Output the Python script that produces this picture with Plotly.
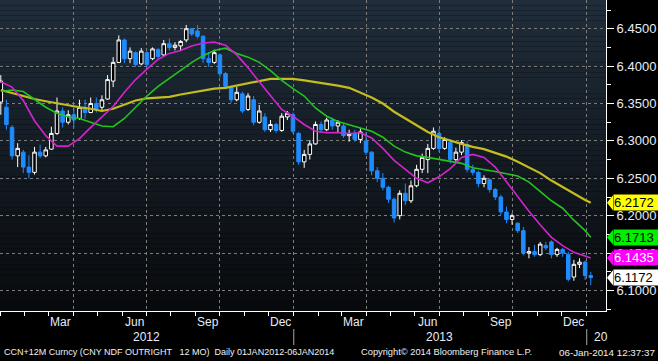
import plotly.graph_objects as go
import pandas as pd

# ---------------- data ----------------
week_dates = pd.date_range("2012-01-02", periods=106, freq="7D")

open_ = [6.352, 6.345, 6.318, 6.280, 6.285, 6.265, 6.258, 6.285, 6.280, 6.289,
         6.310, 6.340, 6.325, 6.335, 6.330, 6.345, 6.338, 6.350, 6.345, 6.356,
         6.380, 6.405, 6.435, 6.410, 6.418, 6.403, 6.418, 6.410, 6.422, 6.415,
         6.430, 6.425, 6.427, 6.435, 6.450, 6.447, 6.440, 6.410, 6.405, 6.415,
         6.390, 6.372, 6.355, 6.363, 6.342, 6.355, 6.325, 6.332, 6.315, 6.322,
         6.314, 6.332, 6.335, 6.310, 6.272, 6.282, 6.296, 6.322, 6.315, 6.328,
         6.320, 6.320, 6.307, 6.310, 6.302, 6.300, 6.285, 6.260, 6.250, 6.238,
         6.222, 6.200, 6.230, 6.220, 6.240, 6.262, 6.275, 6.290, 6.310, 6.290,
         6.298, 6.275, 6.285, 6.295, 6.262, 6.258, 6.243, 6.248, 6.235, 6.225,
         6.205, 6.195, 6.190, 6.180, 6.150, 6.152, 6.148, 6.160, 6.165, 6.148,
         6.155, 6.148, 6.118, 6.135, 6.138, 6.120]
high = [6.388, 6.355, 6.321, 6.297, 6.288, 6.281, 6.292, 6.295, 6.292, 6.319,
        6.358, 6.345, 6.341, 6.345, 6.355, 6.355, 6.358, 6.358, 6.361, 6.388,
        6.412, 6.441, 6.437, 6.425, 6.420, 6.424, 6.420, 6.425, 6.424, 6.435,
        6.437, 6.432, 6.435, 6.455, 6.451, 6.455, 6.441, 6.419, 6.422, 6.417,
        6.392, 6.374, 6.372, 6.366, 6.364, 6.360, 6.348, 6.337, 6.328, 6.324,
        6.337, 6.340, 6.338, 6.312, 6.288, 6.301, 6.326, 6.326, 6.331, 6.331,
        6.328, 6.323, 6.315, 6.315, 6.317, 6.312, 6.286, 6.265, 6.257, 6.240,
        6.224, 6.234, 6.243, 6.247, 6.268, 6.283, 6.296, 6.318, 6.316, 6.305,
        6.302, 6.291, 6.301, 6.300, 6.268, 6.260, 6.254, 6.250, 6.237, 6.228,
        6.212, 6.203, 6.191, 6.185, 6.158, 6.161, 6.165, 6.165, 6.167, 6.157,
        6.157, 6.152, 6.141, 6.143, 6.140, 6.125]
low = [6.335, 6.315, 6.275, 6.265, 6.257, 6.250, 6.255, 6.277, 6.278, 6.288,
       6.308, 6.318, 6.322, 6.318, 6.328, 6.330, 6.337, 6.338, 6.341, 6.355,
       6.372, 6.404, 6.404, 6.404, 6.399, 6.401, 6.399, 6.408, 6.410, 6.413,
       6.421, 6.421, 6.420, 6.432, 6.440, 6.437, 6.404, 6.399, 6.403, 6.385,
       6.371, 6.351, 6.353, 6.337, 6.340, 6.321, 6.323, 6.312, 6.312, 6.311,
       6.312, 6.328, 6.310, 6.268, 6.264, 6.275, 6.295, 6.311, 6.313, 6.315,
       6.311, 6.304, 6.299, 6.299, 6.297, 6.281, 6.254, 6.245, 6.234, 6.217,
       6.191, 6.195, 6.214, 6.217, 6.238, 6.257, 6.257, 6.288, 6.285, 6.288,
       6.270, 6.272, 6.281, 6.258, 6.254, 6.238, 6.238, 6.231, 6.221, 6.201,
       6.190, 6.188, 6.177, 6.147, 6.143, 6.145, 6.146, 6.154, 6.143, 6.145,
       6.145, 6.112, 6.113, 6.130, 6.114, 6.107]
close = [6.380, 6.322, 6.280, 6.290, 6.265, 6.258, 6.285, 6.280, 6.288, 6.310,
         6.340, 6.325, 6.335, 6.328, 6.345, 6.338, 6.350, 6.343, 6.355, 6.382,
         6.405, 6.435, 6.410, 6.420, 6.402, 6.420, 6.402, 6.423, 6.413, 6.430,
         6.425, 6.428, 6.433, 6.450, 6.443, 6.440, 6.410, 6.405, 6.418, 6.390,
         6.373, 6.355, 6.365, 6.340, 6.360, 6.325, 6.340, 6.315, 6.322, 6.314,
         6.333, 6.337, 6.313, 6.272, 6.282, 6.296, 6.322, 6.315, 6.328, 6.320,
         6.325, 6.307, 6.310, 6.302, 6.312, 6.285, 6.260, 6.250, 6.238, 6.222,
         6.197, 6.230, 6.220, 6.240, 6.262, 6.278, 6.290, 6.313, 6.290, 6.302,
         6.275, 6.285, 6.298, 6.262, 6.258, 6.243, 6.250, 6.235, 6.225, 6.205,
         6.195, 6.200, 6.180, 6.150, 6.152, 6.148, 6.162, 6.157, 6.148, 6.155,
         6.150, 6.115, 6.135, 6.138, 6.120, 6.1172]

ma_dates = list(week_dates[::2]) + [week_dates[-1]]

ma_fast = [6.379, 6.372, 6.354, 6.327, 6.307, 6.293, 6.293, 6.303, 6.318, 6.332,
           6.346, 6.365, 6.382, 6.396, 6.409, 6.417, 6.421, 6.427, 6.431, 6.432,
           6.428, 6.415, 6.398, 6.379, 6.360, 6.342, 6.333, 6.322, 6.313, 6.311,
           6.311, 6.310, 6.311, 6.304, 6.290, 6.274, 6.262, 6.250, 6.244, 6.252,
           6.263, 6.278, 6.282, 6.278, 6.265, 6.245, 6.226, 6.206, 6.188, 6.171,
           6.160, 6.151, 6.146, 6.1435]
ma_mid = [6.366, 6.368, 6.366, 6.356, 6.345, 6.337, 6.332, 6.330, 6.325, 6.320,
          6.319, 6.330, 6.345, 6.360, 6.373, 6.384, 6.395, 6.405, 6.414, 6.421,
          6.424, 6.417, 6.412, 6.405, 6.394, 6.381, 6.370, 6.360, 6.344, 6.333,
          6.326, 6.322, 6.317, 6.313, 6.305, 6.293, 6.285, 6.280, 6.278, 6.275,
          6.272, 6.270, 6.264, 6.261, 6.259, 6.256, 6.253, 6.245, 6.233, 6.220,
          6.210, 6.194, 6.180, 6.1713]
ma_slow = [6.368, 6.364, 6.360, 6.356, 6.353, 6.350, 6.347, 6.345, 6.343, 6.340,
           6.343, 6.349, 6.354, 6.357, 6.358, 6.359, 6.362, 6.365, 6.368, 6.370,
           6.371, 6.374, 6.377, 6.381, 6.383, 6.383, 6.383, 6.381, 6.379, 6.377,
           6.374, 6.371, 6.365, 6.358, 6.350, 6.339, 6.330, 6.321, 6.312, 6.305,
           6.300, 6.296, 6.292, 6.289, 6.284, 6.279, 6.272, 6.265, 6.257, 6.247,
           6.238, 6.230, 6.221, 6.2172]

y_ticks = [6.10, 6.15, 6.20, 6.25, 6.30, 6.35, 6.40, 6.45]
grid_dates = ["2012-04-01", "2012-07-01", "2012-10-01", "2013-01-01",
              "2013-04-01", "2013-07-01", "2013-10-01", "2014-01-01"]
month_label_dates = ["2012-03-16", "2012-06-16", "2012-09-16", "2012-12-16",
                     "2013-03-16", "2013-06-16", "2013-09-16", "2013-12-16"]
month_labels = ["Mar", "Jun", "Sep", "Dec", "Mar", "Jun", "Sep", "Dec"]
year_label_dates = ["2012-07-01", "2013-07-01"]
year_labels = ["2012", "2013"]
year_sep_dates = ["2013-01-01", "2014-01-01"]

# ---------------- figure ----------------
YMIN, YMAX = 6.0726, 6.4884
PLOT_H = 311.0
PLOT_W = 606.0
LABEL_COLOR = "#e6ecf8"
GRID_COLOR = "#7c7c7c"
FONT = "Liberation Sans"

fig = go.Figure()

fig.add_trace(go.Candlestick(
    x=week_dates, open=open_, high=high, low=low, close=close,
    increasing=dict(line=dict(color="#ffffff", width=1), fillcolor="#000000"),
    decreasing=dict(line=dict(color="#1e8cff", width=1), fillcolor="#1e8cff"),
    whiskerwidth=0, hoverinfo="skip", showlegend=False,
))

fig.add_trace(go.Scatter(x=ma_dates, y=ma_slow, mode="lines",
                         line=dict(color="#c4bd1e", width=2.2), showlegend=False, hoverinfo="skip"))
fig.add_trace(go.Scatter(x=ma_dates, y=ma_mid, mode="lines",
                         line=dict(color="#22c41e", width=1.6), showlegend=False, hoverinfo="skip"))
fig.add_trace(go.Scatter(x=ma_dates, y=ma_fast, mode="lines",
                         line=dict(color="#d424d0", width=1.6), showlegend=False, hoverinfo="skip"))

shapes = []
# gradient background of plot area
N = 60
top = (32, 45, 58)
bot = (8, 10, 13)
for i in range(N):
    t = i / (N - 1)
    c = tuple(round(top[j] + (bot[j] - top[j]) * t) for j in range(3))
    shapes.append(dict(type="rect", xref="paper", yref="paper",
                       x0=0, x1=1, y0=1 - (i + 1) / N, y1=1 - i / N,
                       fillcolor="rgb(%d,%d,%d)" % c, line=dict(width=0), layer="below"))

# year separators under axis
for d in year_sep_dates:
    shapes.append(dict(type="line", xref="x", yref="paper", x0=d, x1=d,
                       y0=1 - 329 / PLOT_H, y1=1 - 345 / PLOT_H,
                       line=dict(color="#a8a8a8", width=1)))

annotations = []
for d, t in zip(month_label_dates, month_labels):
    annotations.append(dict(x=d, y=1 - 322 / PLOT_H, xref="x", yref="paper", text=t,
                            showarrow=False, xanchor="center", yanchor="middle",
                            font=dict(family=FONT, size=12, color=LABEL_COLOR)))
for d, t in zip(year_label_dates, year_labels):
    annotations.append(dict(x=d, y=1 - 337 / PLOT_H, xref="x", yref="paper", text=t,
                            showarrow=False, xanchor="center", yanchor="middle",
                            font=dict(family=FONT, size=12, color=LABEL_COLOR)))
annotations.append(dict(x="2014-01-08", y=1 - 337 / PLOT_H, xref="x", yref="paper", text="20",
                        showarrow=False, xanchor="left", yanchor="middle",
                        font=dict(family=FONT, size=12, color=LABEL_COLOR)))

# footer
foot_y = 1 - 352 / PLOT_H
annotations.append(dict(x=2 / PLOT_W, y=foot_y, xref="paper", yref="paper",
                        text="CCN+12M Curncy (CNY NDF OUTRIGHT&nbsp;&nbsp;&nbsp;12 MO)&nbsp;&nbsp;Daily 01JAN2012-06JAN2014",
                        showarrow=False, xanchor="left", yanchor="middle",
                        font=dict(family=FONT, size=9, color="#f0f0f0")))
annotations.append(dict(x=446.5 / PLOT_W, y=foot_y, xref="paper", yref="paper",
                        text="Copyright© 2014 Bloomberg Finance L.P.",
                        showarrow=False, xanchor="center", yanchor="middle",
                        font=dict(family=FONT, size=9.3, color="#f0f0f0")))
annotations.append(dict(x=657 / PLOT_W, y=foot_y, xref="paper", yref="paper",
                        text="06-Jan-2014 12:37:37",
                        showarrow=False, xanchor="right", yanchor="middle",
                        font=dict(family=FONT, size=9.8, color="#f0f0f0")))

# value tags on the right
vpp = (YMAX - YMIN) / PLOT_H  # value per pixel
tags = [(ma_slow[-1], "#ffff00", "#000000"),
        (ma_mid[-1], "#00f000", "#000000"),
        (ma_fast[-1], "#ff00ff", "#ffffff"),
        (close[-1], "#ffffff", "#000000")]
for val, bg, fg in tags:
    x_tip = 607 / PLOT_W
    x_box = 613 / PLOT_W
    half = 7.5 * vpp
    shapes.append(dict(type="path", xref="paper", yref="y",
                       path="M %f,%f L %f,%f L %f,%f Z" % (x_tip, val, x_box, val + half, x_box, val - half),
                       fillcolor=bg, line=dict(width=0)))
    annotations.append(dict(x=x_box - 0.5 / PLOT_W, y=val, xref="paper", yref="y",
                            text="%.4f" % val, showarrow=False, xanchor="left", yanchor="middle",
                            bgcolor=bg, width=45, height=15, borderpad=0, align="left",
                            font=dict(family=FONT, size=13, color=fg)))

fig.update_layout(
    width=658, height=361,
    margin=dict(l=0, r=52, t=0, b=50, autoexpand=False),
    paper_bgcolor="#000000", plot_bgcolor="#000000",
    showlegend=False, boxgap=0.1,
    shapes=shapes, annotations=annotations,
    xaxis=dict(
        type="date", range=["2012-01-01", "2014-01-25"],
        rangeslider=dict(visible=False), automargin=False,
        tickvals=grid_dates, showticklabels=False,
        ticks="outside", ticklen=4, tickcolor="#ffffff", tickwidth=1,
        showgrid=True, gridcolor=GRID_COLOR, griddash="3px,3px", gridwidth=1,
        showline=True, linecolor="#ffffff", linewidth=1, zeroline=False,
        minor=dict(ticks="outside", ticklen=4, tickcolor="#ffffff", tickwidth=1,
                   dtick="M1", tick0="2012-01-01", showgrid=False),
    ),
    yaxis=dict(
        side="right", range=[YMIN, YMAX], automargin=False,
        tickvals=y_ticks, tickformat=".4f",
        ticks="outside", ticklen=7, tickcolor="#ffffff", tickwidth=1,
        tickfont=dict(family=FONT, size=13, color=LABEL_COLOR),
        showgrid=True, gridcolor=GRID_COLOR, griddash="3px,3px", gridwidth=1,
        showline=True, linecolor="#ffffff", linewidth=1, zeroline=False,
        minor=dict(ticks="outside", ticklen=4, tickcolor="#ffffff", tickwidth=1,
                   dtick=0.025, tick0=6.075, showgrid=False),
    ),
)

fig.write_html("out.html", config={"displayModeBar": False},
               post_script="document.body.style.margin='0px';")
